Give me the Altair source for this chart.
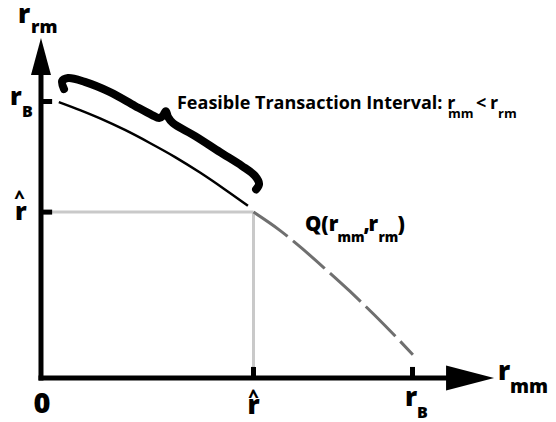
import altair as alt
import pandas as pd

# ---- values (units where r_B = 1 on both axes) ----
R_B = 1.0
R_HAT_X = 0.572
R_HAT_Y = 0.600

# feasible (solid) part of the frontier
solid_x = [0.048, 0.105, 0.159, 0.226, 0.293, 0.361, 0.428, 0.495, 0.557]
solid_y = [0.998, 0.969, 0.939, 0.897, 0.850, 0.799, 0.743, 0.682, 0.623]
# infeasible (dashed) part of the frontier
dash_x = [0.572, 0.643, 0.697, 0.764, 0.832, 0.899, 0.966, 1.001]
dash_y = [0.600, 0.534, 0.475, 0.396, 0.313, 0.226, 0.134, 0.084]
# curly brace over the feasible part
brace_x = [0.062, 0.057, 0.073, 0.118, 0.186, 0.253, 0.299, 0.318, 0.328, 0.336,
           0.342, 0.355, 0.415, 0.482, 0.541, 0.576, 0.587, 0.579]
brace_y = [1.045, 1.074, 1.085, 1.071, 1.034, 0.984, 0.951, 0.940, 0.948, 0.965,
           0.944, 0.922, 0.875, 0.817, 0.767, 0.731, 0.702, 0.682]

# axis extents
Y_AXIS_END = 1.10
Y_ARROW_C = 1.163
Y_ARROW_TIP = 1.23
X_AXIS_END = 1.10
X_ARROW_C = 1.155
TICK_LEN_X = 0.030
TICK_LEN_Y = 0.040

FONT = "Open Sans"
W, H = 540, 414

xs = alt.Scale(domain=[-0.0888, 1.3647], nice=False, zero=False)
ys = alt.Scale(domain=[(378 - 8 - H) / 276.5, 1.3382], nice=False, zero=False)
X = lambda f="x": alt.X(f"{f}:Q", scale=xs, axis=None)
Y = lambda f="y": alt.Y(f"{f}:Q", scale=ys, axis=None)

layers = []

# gray guide lines to Q
guide_df = pd.DataFrame({"x": [0.008, R_HAT_X], "x2": [R_HAT_X, R_HAT_X],
                         "y": [R_HAT_Y, 0.01], "y2": [R_HAT_Y, R_HAT_Y]})
layers.append(alt.Chart(guide_df).mark_rule(color="#c9c9c9", strokeWidth=3).encode(
    x=X(), x2="x2:Q", y=Y(), y2="y2:Q"))

# dashed frontier
layers.append(alt.Chart(pd.DataFrame({"x": dash_x, "y": dash_y})).mark_line(
    color="#6f6f6f", strokeWidth=3, strokeDash=[42, 7], interpolate="monotone").encode(x=X(), y=Y()))

# solid frontier
layers.append(alt.Chart(pd.DataFrame({"x": solid_x, "y": solid_y})).mark_line(
    color="black", strokeWidth=2.5, interpolate="monotone").encode(x=X(), y=Y()))

# brace
brace_df = pd.DataFrame({"x": brace_x, "y": brace_y, "i": list(range(len(brace_x)))})
layers.append(alt.Chart(brace_df).mark_line(
    color="black", strokeWidth=8, strokeCap="round", strokeJoin="round",
    interpolate="catmull-rom").encode(x=X(), y=Y(), order="i:Q"))

# axes
axes_df = pd.DataFrame({"x": [0, 0], "x2": [0, X_AXIS_END], "y": [0, 0], "y2": [Y_AXIS_END, 0]})
layers.append(alt.Chart(axes_df).mark_rule(color="black", strokeWidth=5, strokeCap="square").encode(
    x=X(), x2="x2:Q", y=Y(), y2="y2:Q"))

# ticks
yt_df = pd.DataFrame({"x": [0, 0], "x2": [TICK_LEN_X, TICK_LEN_X], "y": [R_B, R_HAT_Y]})
layers.append(alt.Chart(yt_df).mark_rule(color="black", strokeWidth=5).encode(
    x=X(), x2="x2:Q", y=Y()))
xt_df = pd.DataFrame({"x": [R_B, R_HAT_X], "y": [0, 0], "y2": [TICK_LEN_Y, TICK_LEN_Y]})
layers.append(alt.Chart(xt_df).mark_rule(color="black", strokeWidth=5).encode(
    x=X(), y=Y(), y2="y2:Q"))

# arrow heads
layers.append(alt.Chart(pd.DataFrame({"x": [0], "y": [Y_ARROW_C]})).mark_point(
    shape="M0,-1L0.54,1L-0.54,1Z", size=37 * 37, filled=True, opacity=1, color="black",
    strokeWidth=0).encode(x=X(), y=Y()))
layers.append(alt.Chart(pd.DataFrame({"x": [X_ARROW_C], "y": [0]})).mark_point(
    shape="M-1,-0.52L1,0L-1,0.52Z", size=48 * 48, filled=True, opacity=1, color="black",
    strokeWidth=0).encode(x=X(), y=Y()))


def txt(s, ax, ay, dx, dy, size, align="left", weight=800):
    df = pd.DataFrame({"t": [s], "x": [ax], "y": [ay]})
    return alt.Chart(df).mark_text(
        align=align, baseline="alphabetic", dx=dx, dy=dy, fontSize=size,
        font=FONT, fontWeight=weight, color="black").encode(x=X(), y=Y(), text="t:N")


# y-axis title r_rm
layers += [txt("r", 0, Y_ARROW_TIP, -23, -15, 26), txt("rm", 0, Y_ARROW_TIP, -10, -5, 18)]
# y tick labels
layers += [txt("r", 0, R_B, -31, 3.5, 25), txt("B", 0, R_B, -19, 15.5, 16)]
layers += [txt("r", 0, R_HAT_Y, -26, 8, 25), txt("^", 0, R_HAT_Y, -21.5, -9, 18, "center")]
# origin
layers.append(txt("0", 0, 0, 1, 35, 29, "center"))
# x tick labels
layers += [txt("r", R_HAT_X, 0, 0, 36, 26, "center"), txt("^", R_HAT_X, 0, 0, 24, 18, "center")]
layers += [txt("r", R_B, 0, -7.5, 28, 26), txt("B", R_B, 0, 4.5, 40, 16)]
# x-axis title r_mm
layers += [txt("r", X_ARROW_C, 0, 28, 2, 26), txt("mm", X_ARROW_C, 0, 40, 15, 19)]
# Q label
layers += [
    txt("Q(r", R_HAT_X, R_HAT_Y, 51.5, 19, 20.5),
    txt("mm", R_HAT_X, R_HAT_Y, 84, 30, 13.5),
    txt(",", R_HAT_X, R_HAT_Y, 110, 19, 20.5),
    txt("r", R_HAT_X, R_HAT_Y, 115, 19, 20.5),
    txt("rm", R_HAT_X, R_HAT_Y, 125, 30, 13.5),
    txt(")", R_HAT_X, R_HAT_Y, 144, 19, 20.5),
]
# brace annotation
layers += [
    txt("Feasible Transaction Interval: r", 0, R_B, 136, 7.5, 18, weight=700),
    txt("mm", 0, R_B, 407, 16.5, 13, weight=700),
    txt("<", 0, R_B, 435, 7.5, 18, weight=700),
    txt("r", 0, R_B, 449, 7.5, 18, weight=700),
    txt("rm", 0, R_B, 457, 16.5, 13, weight=700),
]

chart = alt.layer(*layers).properties(
    width=W, height=H, autosize=alt.AutoSizeParams(type="none"), padding=0
).configure_view(stroke=None)

chart.save("out.html", embed_options={"renderer": "svg", "actions": False})
